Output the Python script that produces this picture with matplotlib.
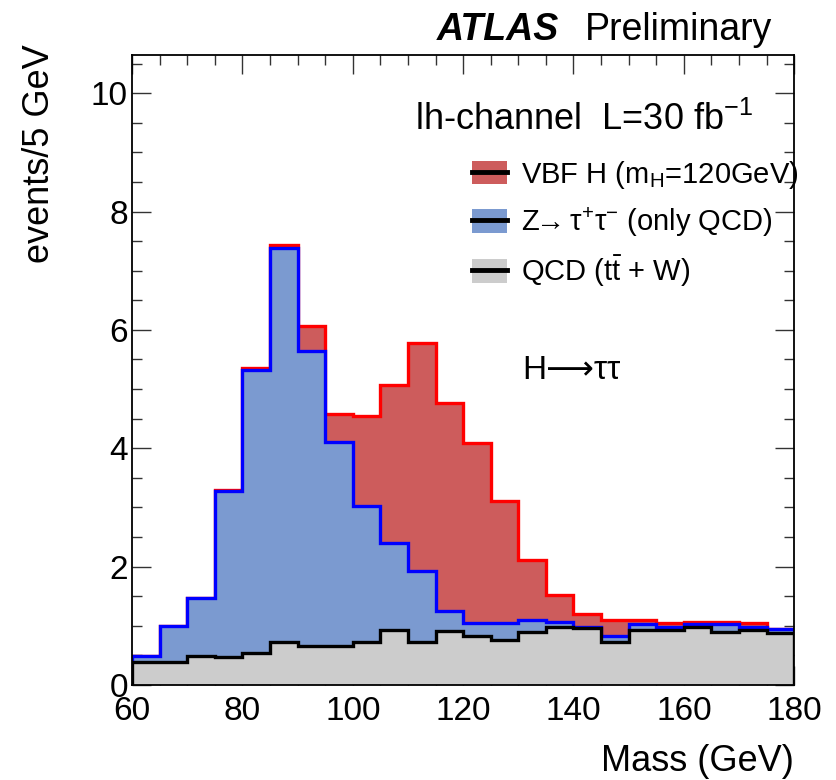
import numpy as np
import matplotlib
matplotlib.use("Agg")
import matplotlib.pyplot as plt
from matplotlib.patches import Patch
from matplotlib.lines import Line2D
from matplotlib.legend_handler import HandlerTuple
from matplotlib.ticker import MultipleLocator

plt.rcParams['font.family'] = ['Liberation Sans', 'DejaVu Sans']
plt.rcParams['mathtext.fontset'] = 'custom'
plt.rcParams['mathtext.rm'] = 'Liberation Sans'
plt.rcParams['mathtext.it'] = 'Liberation Sans:italic'

# Bin edges (GeV)
bin_edges = np.arange(60, 185, 5)

# Per-bin contributions (events / 5 GeV)
qcd_ttw = [0.38, 0.39, 0.48, 0.47, 0.54, 0.73, 0.66, 0.65, 0.73, 0.93, 0.73, 0.91,
           0.82, 0.76, 0.90, 0.98, 0.96, 0.73, 0.93, 0.93, 0.98, 0.90, 0.93, 0.88]
ztautau_total = [0.48, 0.99, 1.47, 3.27, 5.33, 7.39, 5.64, 4.10, 3.03, 2.40, 1.92, 1.25,
                 1.04, 1.05, 1.09, 1.07, 0.98, 0.82, 1.02, 0.98, 1.03, 1.02, 0.97, 0.94]
vbf_total = [0.48, 1.00, 1.47, 3.29, 5.36, 7.43, 6.06, 4.57, 4.54, 5.07, 5.78, 4.77,
             4.08, 3.11, 2.11, 1.52, 1.20, 1.09, 1.09, 1.04, 1.07, 1.07, 1.05, 0.94]

qcd = np.array(qcd_ttw)
ztt = np.array(ztautau_total) - qcd
vbf = np.array(vbf_total) - np.array(ztautau_total)

stack1 = qcd
stack2 = stack1 + ztt
stack3 = stack2 + vbf

fig = plt.figure(figsize=(8.36, 7.80), dpi=100)
ax = fig.add_axes([0.158, 0.122, 0.792, 0.807])

red_fill = '#CD5C5C'
blue_fill = '#7B9AD0'
gray_fill = '#CCCCCC'
lw = 2.4

ax.stairs(stack3, bin_edges, fill=True, color=red_fill, zorder=1)
ax.stairs(stack3, bin_edges, color='#FF0000', lw=lw, zorder=2)
ax.stairs(stack2, bin_edges, fill=True, color=blue_fill, zorder=3)
ax.stairs(stack2, bin_edges, color='#0000FF', lw=lw, zorder=4)
ax.stairs(stack1, bin_edges, fill=True, color=gray_fill, zorder=5)
ax.stairs(stack1, bin_edges, color='black', lw=lw, zorder=6)

ax.set_xlim(60, 180)
ax.set_ylim(0, 10.64)

ax.xaxis.set_major_locator(MultipleLocator(20))
ax.xaxis.set_minor_locator(MultipleLocator(5))
ax.yaxis.set_major_locator(MultipleLocator(2))
ax.yaxis.set_minor_locator(MultipleLocator(0.5))
ax.tick_params(which='both', direction='in', top=True, right=True,
               labelsize=24, width=1.0, color='#333333')
ax.tick_params(which='major', length=14, pad=3)
ax.tick_params(which='minor', length=7)
ax.tick_params(axis='x', which='major', pad=8)
for sp in ax.spines.values():
    sp.set_linewidth(1.3)
    sp.set_zorder(10)

ax.set_xlabel('Mass (GeV)', fontsize=26, loc='right', labelpad=12)
ax.set_ylabel('events/5 GeV', fontsize=26, loc='top')
ax.yaxis.set_label_coords(-0.114, 1.017)

fig.text(0.522, 0.962, 'ATLAS', fontsize=27, fontweight='bold', style='italic',
         va='center', ha='left')
fig.text(0.700, 0.962, 'Preliminary', fontsize=27, va='center', ha='left')

ax.text(0.428, 0.898, r'lh-channel  L=30 fb$^{\mathregular{-1}}$', fontsize=26,
        transform=ax.transAxes, va='center', ha='left')

ax.text(0.590, 0.500, 'H⟶ττ', fontsize=24, transform=ax.transAxes,
        va='center', ha='left')

handles = [
    (Patch(facecolor=red_fill, edgecolor='none'), Line2D([], [], color='black', lw=3.5)),
    (Patch(facecolor=blue_fill, edgecolor='none'), Line2D([], [], color='black', lw=3.5)),
    (Patch(facecolor=gray_fill, edgecolor='none'), Line2D([], [], color='black', lw=3.5)),
]
labels = [r'VBF H (m$_{\mathregular{H}}$=120GeV)',
          r'Z$\!\!\rightarrow\!\!$ τ$^{\mathregular{+}}$τ$^{\mathregular{-}}$ (only QCD)',
          r'QCD (t$\bar{\mathregular{t}}$ + W)']
leg = ax.legend(handles, labels, handler_map={tuple: HandlerTuple(ndivide=1, pad=0)},
                loc='upper left', bbox_to_anchor=(0.514, 0.836), frameon=False,
                fontsize=21, handlelength=1.17, handleheight=0.85, handletextpad=0.48,
                labelspacing=0.5, borderaxespad=0, borderpad=0)
leg.set_zorder(20)

fig.savefig('out.png', dpi=100)
